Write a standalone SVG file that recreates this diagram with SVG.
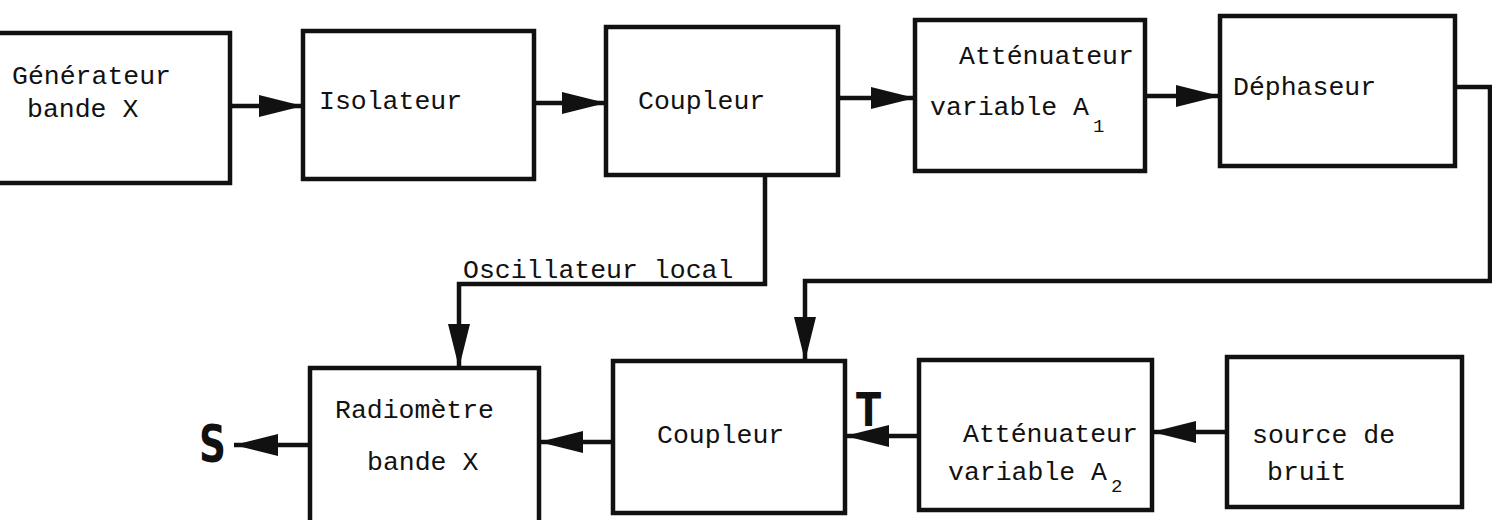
<svg xmlns="http://www.w3.org/2000/svg" width="1492" height="520" viewBox="0 0 1492 520">
  <style>
    .box { fill: #ffffff; stroke: #111111; stroke-width: 4.5; }
    .wire { fill: none; stroke: #111111; stroke-width: 4.5; stroke-linejoin: miter; }
    .lbl { font-family: "Liberation Mono", "Courier New", monospace; font-size: 26.5px; fill: #111111; }
    .mark { font-family: "DejaVu Sans", "Liberation Sans", sans-serif; font-weight: bold; fill: #111111; }
  </style>
  <defs>
    <marker id="head" markerUnits="userSpaceOnUse" markerWidth="44" markerHeight="22" refX="44" refY="11" orient="auto">
      <path d="M0,0 L44,11 L0,22 Z" fill="#111111"/>
    </marker>
  </defs>

  <rect width="1492" height="520" fill="#ffffff"/>

  <!-- connectors -->
  <g id="connectors">
    <line class="wire" x1="230" y1="106" x2="303" y2="106" marker-end="url(#head)"/>
    <line class="wire" x1="534" y1="103" x2="606" y2="103" marker-end="url(#head)"/>
    <line class="wire" x1="838" y1="98" x2="915" y2="98" marker-end="url(#head)"/>
    <line class="wire" x1="1145" y1="96" x2="1220" y2="96" marker-end="url(#head)"/>
    <!-- phase shifter output looping back to the lower coupler -->
    <polyline class="wire" points="1455,87 1490,87 1490,281 805,281 805,361" marker-end="url(#head)"/>
    <!-- local oscillator branch from the upper coupler -->
    <polyline class="wire" points="765,175 765,284 459,284 459,368" marker-end="url(#head)"/>
    <line class="wire" x1="1227" y1="432" x2="1152" y2="432" marker-end="url(#head)"/>
    <line class="wire" x1="919" y1="436" x2="845" y2="436" marker-end="url(#head)"/>
    <line class="wire" x1="613" y1="442" x2="539" y2="442" marker-end="url(#head)"/>
    <line class="wire" x1="310" y1="445" x2="234" y2="445" marker-end="url(#head)"/>
    <text class="mark" x="0" y="0" font-size="46" transform="translate(856,426) scale(0.8,1)">T</text>
  </g>

  <g id="generateur">
    <rect class="box" x="-4" y="33" width="234" height="150"/>
    <text class="lbl" x="12" y="84">Générateur</text>
    <text class="lbl" x="27" y="117">bande X</text>
  </g>

  <g id="isolateur">
    <rect class="box" x="303" y="31" width="231" height="148"/>
    <text class="lbl" x="319" y="109">Isolateur</text>
  </g>

  <g id="coupleur-haut">
    <rect class="box" x="606" y="27" width="232" height="148"/>
    <text class="lbl" x="638" y="109">Coupleur</text>
  </g>

  <g id="attenuateur-a1">
    <rect class="box" x="915" y="20" width="230" height="151"/>
    <text class="lbl" x="959" y="64">Atténuateur</text>
    <text class="lbl" x="930" y="115">variable A<tspan dx="4" dy="17" font-size="19">1</tspan></text>
  </g>

  <g id="dephaseur">
    <rect class="box" x="1220" y="16" width="235" height="150"/>
    <text class="lbl" x="1233" y="95">Déphaseur</text>
  </g>

  <g id="oscillateur-label">
    <text class="lbl" x="463" y="278">Oscillateur local</text>
  </g>

  <g id="radiometre">
    <rect class="box" x="310" y="368" width="229" height="160"/>
    <text class="lbl" x="335" y="418">Radiomètre</text>
    <text class="lbl" x="367" y="470">bande X</text>
  </g>

  <g id="coupleur-bas">
    <rect class="box" x="613" y="361" width="232" height="152"/>
    <text class="lbl" x="657" y="443">Coupleur</text>
  </g>

  <g id="attenuateur-a2">
    <rect class="box" x="919" y="360" width="233" height="150"/>
    <text class="lbl" x="963" y="442">Atténuateur</text>
    <text class="lbl" x="948" y="480">variable A<tspan dx="4" dy="12" font-size="19">2</tspan></text>
  </g>

  <g id="source-bruit">
    <rect class="box" x="1227" y="357" width="235" height="150"/>
    <text class="lbl" x="1252" y="443">source de</text>
    <text class="lbl" x="1267" y="480">bruit</text>
  </g>

  <g id="sortie">
    <text class="mark" x="0" y="0" font-size="52" transform="translate(199,462) scale(0.72,1)">S</text>
  </g>
</svg>
